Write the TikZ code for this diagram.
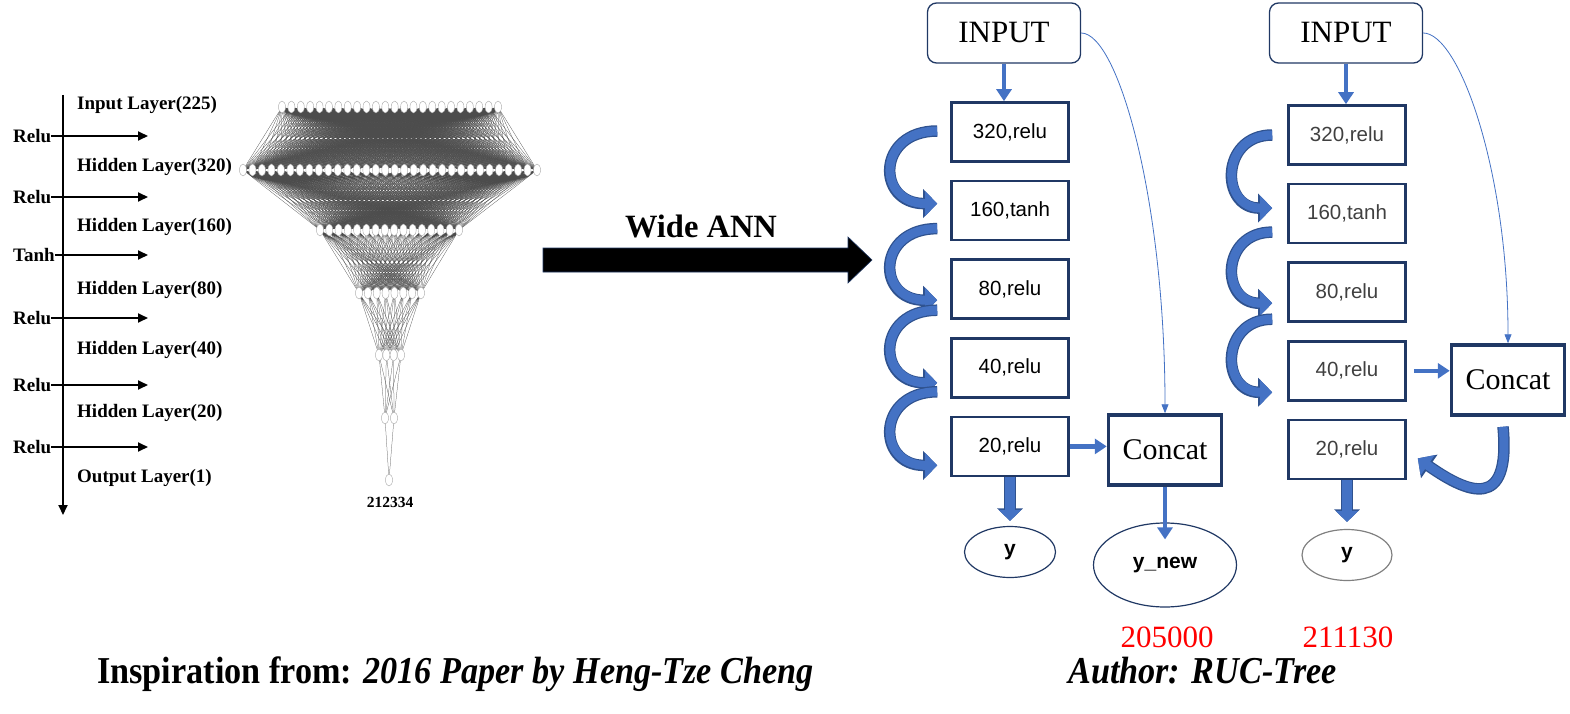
\documentclass[tikz,border=0pt]{standalone}
\usepackage{fontspec}
\setmainfont{Liberation Serif}
\newfontfamily\labelfont{Liberation Sans}
\usepackage{graphicx}
\usetikzlibrary{arrows.meta, positioning, calc, shapes.geometric}
\definecolor{navy}{RGB}{32,56,100}
\definecolor{flowblue}{RGB}{68,114,196}
\definecolor{edgeblue}{RGB}{47,82,143}
\definecolor{numred}{RGB}{255,0,0}
\newcommand{\fs}[1]{\fontsize{#1}{#1}\selectfont}

\begin{document}
\begin{tikzpicture}[x=1pt, y=-1pt,
  lyr/.style={font=\fs{19}\bfseries, anchor=west, inner sep=0pt},
  axis/.style={line width=1.8pt, -{Triangle[width=9pt,length=10pt]}},
  unit/.style={ellipse, draw=gray!70, fill=white, line width=0.4pt,
               minimum width=7pt, minimum height=12pt, inner sep=0pt},
  wire/.style={draw=black!70, line width=0.25pt},
  inbox/.style={draw=navy, line width=1.3pt, rounded corners=9pt,
                minimum width=153pt, minimum height=60pt, font=\fs{31}},
  layer/.style={draw=navy, line width=2.6pt, minimum width=117pt,
                minimum height=59pt, font=\labelfont\fs{20.5}},
  catbox/.style={draw=navy, line width=3.5pt, minimum width=113pt,
                 minimum height=70pt, font=\fs{30}},
  outnode/.style={ellipse, draw=navy, line width=1.2pt, inner sep=0pt,
                  font=\labelfont\bfseries\fs{21}},
  flow/.style={draw=flowblue, line width=4.5pt, -{Triangle[width=15pt,length=12pt]}},
  bigflow/.style={draw=flowblue, line width=10pt, -{Triangle[width=22pt,length=11pt]},
                  preaction={draw=edgeblue, line width=12pt, -{Triangle[width=25pt,length=12.5pt]}}},
  skip/.style={draw=flowblue, line width=9pt, -{Triangle[width=24pt,length=12pt]},
               preaction={draw=edgeblue, line width=11.5pt, -{Triangle[width=28pt,length=14pt]}}},
  link/.style={draw=flowblue, line width=0.8pt, -{Triangle[width=7pt,length=9pt]}},
  count/.style={font=\fs{31}, text=numred},
  node distance=17pt
]
\useasboundingbox (0,0) rectangle (1570,714);

% Layer names and activations
\node[lyr] (l0) at (77,105) {Input Layer(225)};
\node[lyr] (l1) at (77,167) {Hidden Layer(320)};
\node[lyr] (l2) at (77,227) {Hidden Layer(160)};
\node[lyr] (l3) at (77,290) {Hidden Layer(80)};
\node[lyr] (l4) at (77,350) {Hidden Layer(40)};
\node[lyr] (l5) at (77,413) {Hidden Layer(20)};
\node[lyr] (l6) at (77,478) {Output Layer(1)};

\coordinate (atop) at (63,95);
\coordinate (abot) at (63,515);
\coordinate (aend) at (148,0);
\draw[axis] (atop) -- (abot);
\foreach \t/\y [count=\k] in {Relu/136, Relu/197, Tanh/255, Relu/318, Relu/385, Relu/447} {
  \node[lyr] (f\k) at (13,\y) {\t};
  \draw[axis] (f\k.east) -- (f\k.east -| aend);
}

% Network sketch
\foreach \l/\n/\y/\a/\b in {1/24/107/282/498, 2/32/170/243/537, 3/16/230/320/459,
                            4/8/293/359/421, 5/4/355/379/401, 6/2/418/385/394, 7/1/480/389/389} {
  \foreach \i in {1,...,\n} {
    \coordinate (p\l-\i) at ({\a+(\b-\a)*(\i-1)/max(\n-1,1)}, \y);
  }
}
\foreach \l/\n/\m [evaluate=\l as \k using int(\l+1)] in {1/24/32, 2/32/16, 3/16/8, 4/8/4, 5/4/2, 6/2/1} {
  \foreach \i in {1,...,\n} {
    \draw[wire] \foreach \j in {1,...,\m} {(p\l-\i) -- (p\k-\j)};
  }
}
\foreach \l/\n in {1/24, 2/32, 3/16, 4/8, 5/4, 6/2, 7/1} {
  \foreach \i in {1,...,\n} {
    \node[unit] (u\l-\i) at (p\l-\i) {};
  }
}
\node[font=\fs{15.5}\bfseries] (total) at (390,502) {212334};

% Wide ANN arrow
\node[font=\fs{32.5}\bfseries] (wide) at (701,226) {Wide ANN};
\fill[black, draw=navy, line width=0.6pt] (543,248) -- (848,248) -- (848,237) -- (872,260)
  -- (848,283) -- (848,272) -- (543,272) -- cycle;

% First model
\node[inbox] (in1) at (1004,33) {INPUT};
\node[layer] (b1) at (1010,132) {320,relu};
\node[layer, below=of b1] (b2) {160,tanh};
\node[layer, below=of b2] (b3) {80,relu};
\node[layer, below=of b3] (b4) {40,relu};
\node[layer, below=of b4] (b5) {20,relu};
\node[catbox] (c1) at (1165,450) {Concat};
\node[outnode, minimum width=91pt, minimum height=51pt] (y1) at (1010,552) {y};
\node[outnode, minimum width=143pt, minimum height=84pt] (yn) at (1165,565) {y\_new};

\draw[flow] (in1.south) -- (in1.south |- b1.north);
\foreach \s/\t/\u/\v in {b1/b2/1/7, b2/b3/-18/-11, b3/b4/-21/-15, b4/b5/-24/-19} {
  \draw[skip] ([xshift=-13pt,yshift=\u pt]\s.west) .. controls +(-61,0) and +(-61,0)
    .. ([xshift=-13pt,yshift=\v pt]\t.west);
}
\draw[link] (in1.east) .. controls +(37,0) and +(0,-213) .. (c1.north);
\draw[flow] (b5.east) -- (b5.east -| c1.west);
\draw[bigflow] (b5.south) -- ([yshift=5pt]y1.north);
\draw[flow] (c1.south) -- ([yshift=-17pt]yn.north);
\node[count] (n1) at (1167,637) {205000};

% Second model
\node[inbox] (in2) at (1346,33) {INPUT};
\node[layer] (d1) at (1347,135) {\color{black!75}320,relu};
\node[layer, below=of d1] (d2) {\color{black!75}160,tanh};
\node[layer, below=of d2] (d3) {\color{black!75}80,relu};
\node[layer, below=of d3] (d4) {\color{black!75}40,relu};
\node[layer, below=of d4] (d5) {\color{black!75}20,relu};
\node[catbox] (c2) at (1508,380) {Concat};
\node[outnode, draw=gray, minimum width=90pt, minimum height=51pt] (y2) at (1347,555) {y};

\draw[flow] (in2.south) -- (in2.south |- d1.north);
\foreach \s/\t/\u/\v in {d1/d2/0/5.5, d2/d3/-18.5/-11, d3/d4/-27/-21.5} {
  \draw[skip] ([xshift=-15pt,yshift=\u pt]\s.west) .. controls +(-52,0) and +(-52,0)
    .. ([xshift=-15pt,yshift=\v pt]\t.west);
}
\draw[link] (in2.east) .. controls +(36,0) and +(0,-173) .. (c2.north);
\draw[flow] ([xshift=7pt]d4.east) -- (d4.east -| c2.west);
\draw[skip] ([xshift=-5pt,yshift=-10pt]c2.south) .. controls +(8,85) and +(50,35)
  .. ([xshift=11pt,yshift=-9pt]d5.east);
\draw[bigflow] (d5.south) -- ([yshift=7pt]y2.north);
\node[count] (n2) at (1348,637) {211130};

% Credits
\node[font=\fs{38}\bfseries, anchor=base west, inner sep=0pt] (insp) at (97,683)
  {\scalebox{0.9}[1]{Inspiration from: \textit{2016 Paper by Heng-Tze Cheng}}};
\node[font=\fs{38}\bfseries\itshape, anchor=base west, inner sep=0pt] (auth) at (1068,683)
  {\scalebox{0.9}[1]{Author: RUC-Tree}};
\end{tikzpicture}
\end{document}
